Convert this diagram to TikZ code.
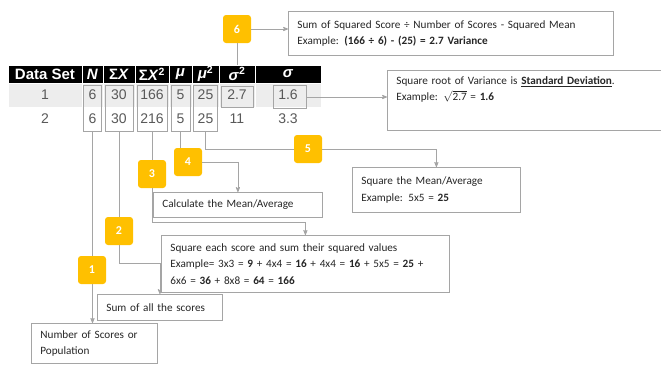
\documentclass[tikz,border=0pt]{standalone}
\usepackage{fontspec}
\usepackage{amsmath}
\setmainfont{Carlito}
\newfontfamily\tabfont{Liberation Sans}
\usetikzlibrary{arrows}
\usetikzlibrary{calc}
\definecolor{numyel}{HTML}{FFC000}
\definecolor{lngray}{HTML}{A5A5A5}
\definecolor{rowgray}{HTML}{EDEDED}
\definecolor{txgray}{HTML}{595959}
\tikzset{>=stealth'}
\tikzset{num/.style={fill=numyel,text=white,rounded corners=3pt,minimum size=28pt,inner sep=0pt,font=\bfseries\fontsize{12}{12}\selectfont}}
\tikzset{note/.style={draw=lngray,line width=0.8pt,fill=white,anchor=north west,align=left,inner xsep=9pt,inner ysep=5pt,text=black!85,font=\fontsize{11.2}{16.5}\selectfont}}
\tikzset{ln/.style={draw=lngray,line width=0.8pt}}
\tikzset{hl/.style={draw=lngray,line width=0.8pt,inner sep=0pt}}
\tikzset{hd/.style={fill=black,draw=white,line width=1pt,text=white,minimum height=18pt,inner sep=0pt,font=\tabfont\bfseries\fontsize{15}{15}\selectfont}}
\tikzset{ra/.style={fill=rowgray,draw=white,line width=1pt,text=txgray,minimum height=24pt,inner sep=0pt,font=\tabfont\fontsize{14}{14}\selectfont}}
\tikzset{rb/.style={ra,fill=white}}
\begin{document}
\begin{tikzpicture}[x=1pt,y=-1pt]
\useasboundingbox (0,0) rectangle (661,364);

% table
\node[hd,minimum width=74pt] (hdSet) at (45,74) {Data Set};
\node[hd,minimum width=21pt] (hdN) at (92.5,74) {\textit{N}};
\node[hd,minimum width=32pt] (hdSX) at (119,74) {Σ\textit{X}};
\node[hd,minimum width=34pt] (hdSXX) at (152,74) {Σ\textit{X}\textsuperscript{2}};
\node[hd,minimum width=23pt] (hdMu) at (180.5,74) {\textit{μ}};
\node[hd,minimum width=27pt] (hdMuu) at (205.5,74) {\textit{μ}\textsuperscript{2}};
\node[hd,minimum width=36pt] (hdVar) at (237,74) {\textit{σ}\textsuperscript{2}};
\node[hd,minimum width=66pt] (hdSd) at (288,74) {\textit{σ}};

\node[ra,minimum width=74pt] (aSet) at (45,95) {1};
\node[ra,minimum width=21pt] (aN) at (92.5,95) {6};
\node[ra,minimum width=32pt] (aSX) at (119,95) {30};
\node[ra,minimum width=34pt] (aSXX) at (152,95) {166};
\node[ra,minimum width=23pt] (aMu) at (180.5,95) {5};
\node[ra,minimum width=27pt] (aMuu) at (205.5,95) {25};
\node[ra,minimum width=36pt] (aVar) at (237,95) {2.7};
\node[ra,minimum width=66pt] (aSd) at (288,95) {1.6};

\node[rb,minimum width=74pt] (bSet) at (45,119) {2};
\node[rb,minimum width=21pt] (bN) at (92.5,119) {6};
\node[rb,minimum width=32pt] (bSX) at (119,119) {30};
\node[rb,minimum width=34pt] (bSXX) at (152,119) {216};
\node[rb,minimum width=23pt] (bMu) at (180.5,119) {5};
\node[rb,minimum width=27pt] (bMuu) at (205.5,119) {25};
\node[rb,minimum width=36pt] (bVar) at (237,119) {11};
\node[rb,minimum width=66pt] (bSd) at (288,119) {3.3};

% highlighted cells
\node[hl,minimum width=18pt,minimum height=46pt] (hN) at (92.5,108) {};
\node[hl,minimum width=28pt,minimum height=46pt] (hSX) at (119,108) {};
\node[hl,minimum width=30pt,minimum height=46pt] (hSX2) at (152,108) {};
\node[hl,minimum width=19pt,minimum height=46pt] (hMu) at (180.5,108) {};
\node[hl,minimum width=24pt,minimum height=46pt] (hMu2) at (205.5,108) {};
\node[hl,minimum width=32pt,minimum height=21pt] (hVar) at (237,97) {};
\node[hl,minimum width=33pt,minimum height=23pt] (hSd) at (290,97) {};

% notes
\node[note,text width=307pt,minimum height=44pt] (note6) at (288,11)
  {Sum of Squared Score ÷ Number of Scores - Squared Mean\\
   Example: \textbf{(166 ÷ 6) - (25) = 2.7 Variance}};
\node[note,text width=272pt,minimum height=60pt,text depth=40pt] (note7) at (387,70)
  {Square root of Variance is \textbf{\underline{Standard Deviation}}.\\
   Example: $\sqrt{\text{2.7}}$ = \textbf{1.6}};
\node[note,text width=150pt,minimum height=45pt] (note5) at (352,167)
  {Square the Mean/Average\\ Example: 5x5 = \textbf{25}};
\node[note,text width=151pt,minimum height=25pt] (note4) at (153,192)
  {Calculate the Mean/Average};
\node[note,text width=270pt,minimum height=57pt] (note3) at (161,235)
  {Square each score and sum their squared values\\
   Example= 3x3 = \textbf{9} + 4x4 = \textbf{16} + 4x4 = \textbf{16} + 5x5 = \textbf{25} +\\
   6x6 = \textbf{36} + 8x8 = \textbf{64} = \textbf{166}};
\node[note,text width=107pt,minimum height=26pt] (note2) at (97,294)
  {Sum of all the scores};
\node[note,text width=108pt,minimum height=40pt] (note1) at (31,323)
  {Number of Scores or\\ Population};

\draw[ln,->] (hN.south) -- (hN.south |- note1.north);

% step numbers
\node[num] (n1) at (92,270) {1};
\node[num] (n2) at (119,231) {2};
\node[num] (n3) at (152,174) {3};
\node[num] (n4) at (188,162) {4};
\node[num] (n5) at (308,149) {5};
\node[num] (n6) at (237,29) {6};

\draw[ln] (n6.south) -- (n6.south |- hdVar.north);
\draw[ln,->] (n6.east) -- (n6.east -| note6.west);
\draw[ln,->] (hSd.east) -- (hSd.east -| note7.west);
\draw[ln] (hSX.south) -- (n2.north);
\draw[ln,->] (n2.south) -- ++(0,18) -| (note2.north);
\draw[ln] (hSX2.south) -- (n3.north);
\draw[ln,->] (n3.south) -- ++(0,34) -| (note3.north);
\draw[ln] (hMu.south) -- (hMu.south |- n4.north);
\draw[ln,->] (n4.east) -| (note4.north);
\draw[ln] (hMu2.south) |- (n5.west);
\draw[ln,->] (n5.east) -| (note5.north);
\end{tikzpicture}
\end{document}
